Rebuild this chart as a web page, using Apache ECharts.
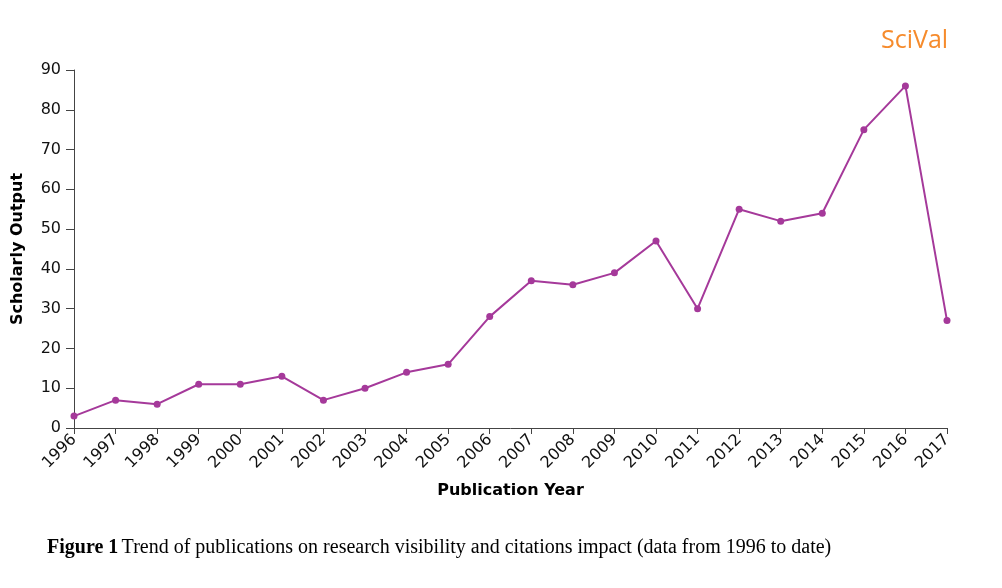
<!DOCTYPE html>
<html><head><meta charset="utf-8">
<script src="https://cdn.jsdelivr.net/npm/echarts@6/dist/echarts.min.js"></script>
<style>html,body{margin:0;padding:0;background:#fff;}#c{width:1002px;height:588px;}</style>
</head><body><div id="c"></div>
<script>
var years = ['1996','1997','1998','1999','2000','2001','2002','2003','2004','2005','2006','2007','2008','2009','2010','2011','2012','2013','2014','2015','2016','2017'];
var output = [3,7,6,11,11,13,7,10,14,16,28,37,36,39,47,30,55,52,54,75,86,27];
var yTicks = {min:0, max:90, interval:10};

var chart = echarts.init(document.getElementById('c'), null, {renderer:'canvas'});
chart.setOption({
  animation:false,
  backgroundColor:'#fff',
  graphic:[
    {type:'text', left:881, top:28, style:{text:'SciVal', fill:'#f68b2c', font:'25px "Open Sans", sans-serif'}},
    {type:'text', left:47, top:538, style:{rich:{b:{font:'bold 20px "Liberation Serif", serif', fill:'#000'}, n:{font:'20px "Liberation Serif", serif', fill:'#000'}}, text:'{b|Figure 1} {n|Trend of publications on research visibility and citations impact (data from 1996 to date)}'}}
  ],
  grid:{left:74, right:55, top:70, bottom:160},
  xAxis:{
    type:'category', data:years, boundaryGap:false,
    name:'Publication Year', nameLocation:'middle', nameGap:55,
    nameTextStyle:{fontFamily:'DejaVu Sans', fontWeight:'bold', fontSize:16, color:'#000'},
    axisLine:{lineStyle:{color:'#444', width:1}},
    axisTick:{show:true, length:6, alignWithLabel:true, lineStyle:{color:'#444'}},
    axisLabel:{rotate:45, fontFamily:'DejaVu Sans', fontSize:16, color:'#111', margin:9, interval:0},
    splitLine:{show:false}
  },
  yAxis:{
    type:'value', min:yTicks.min, max:yTicks.max, interval:yTicks.interval,
    name:'Scholarly Output', nameLocation:'middle', nameGap:48,
    nameTextStyle:{fontFamily:'DejaVu Sans', fontWeight:'bold', fontSize:16, color:'#000'},
    axisLine:{show:true, lineStyle:{color:'#444', width:1}},
    axisTick:{show:true, length:8, lineStyle:{color:'#444'}},
    axisLabel:{fontFamily:'DejaVu Sans', fontSize:16, color:'#111', margin:13},
    splitLine:{show:false}
  },
  series:[{
    type:'line', data:output, symbol:'circle', symbolSize:7,
    lineStyle:{color:'#a5399a', width:2},
    itemStyle:{color:'#a5399a'}
  }]
});
</script></body></html>
